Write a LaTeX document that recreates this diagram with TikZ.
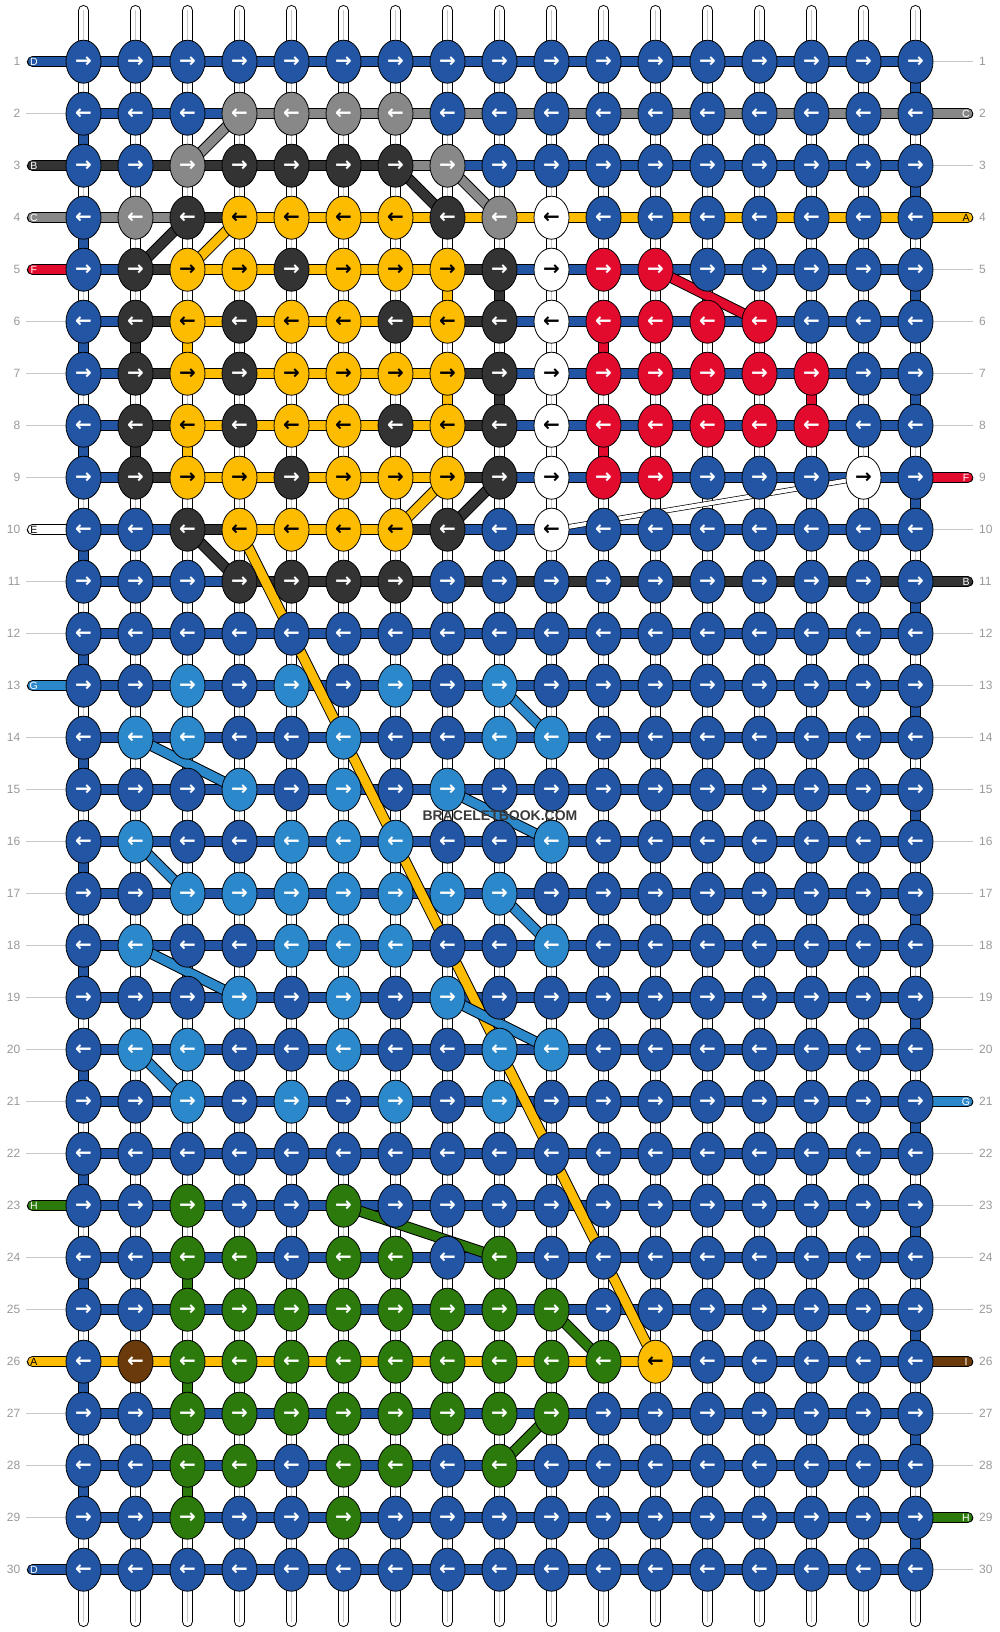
\documentclass[tikz,border=0pt]{standalone}
\usepackage{fontspec}
\setmainfont{Liberation Sans}
\newfontfamily\arrowfont{DejaVu Sans}
\usetikzlibrary{shapes.geometric}
\pgfdeclarelayer{l0}
\pgfdeclarelayer{l1}
\pgfdeclarelayer{l2}
\pgfsetlayers{l0,l1,l2,main}
\definecolor{cB}{HTML}{2256A4}
\definecolor{cL}{HTML}{2A88CB}
\definecolor{cG}{HTML}{888888}
\definecolor{cK}{HTML}{333333}
\definecolor{cY}{HTML}{FDBC00}
\definecolor{cR}{HTML}{E30B2D}
\definecolor{cN}{HTML}{2B7A0B}
\definecolor{cO}{HTML}{6B3A0A}
\definecolor{cW}{HTML}{FFFFFF}
\definecolor{numgray}{HTML}{999999}
\definecolor{linegray}{HTML}{C8C8C8}
\definecolor{wmgray}{HTML}{3A3A3A}
\colorlet{aB}{white}
\colorlet{aL}{white}
\colorlet{aG}{white}
\colorlet{aK}{white}
\colorlet{aY}{black}
\colorlet{aR}{white}
\colorlet{aN}{white}
\colorlet{aO}{white}
\colorlet{aW}{black}
\tikzset{
  knot/.style={ellipse, draw=black, line width=0.8pt, minimum width=35pt, minimum height=43pt, inner sep=0pt, font=\arrowfont\bfseries\fontsize{20}{20}\selectfont},
  strand/.style={draw=black, line width=1pt, double=#1, double distance=9pt},
  warp/.style={strand=white, line cap=round},
  warpmid/.style={draw=linegray, line width=1pt, line cap=round},
  stubline/.style={strand=#1, line cap=round},
  stubtext/.style={font=\fontsize{10.5}{10.5}\selectfont, inner sep=0pt},
  rownum/.style={font=\fontsize{12}{12}\selectfont, text=numgray, inner ysep=0pt},
  numline/.style={draw=linegray, line width=0.8pt},
  thinstrand/.style={draw=black, line width=0.7pt, double=white, double distance=4pt},
  wmark/.style={font=\bfseries\fontsize{14}{14}\selectfont, text=wmgray}
}
\begin{document}
\begin{tikzpicture}[x=1pt,y=-1pt]
\useasboundingbox (0,0) rectangle (1000,1632);
% knots
\foreach \rr/\cols in {
 1/{B,B,B,B,B,B,B,B,B,B,B,B,B,B,B,B,B},
 2/{B,B,B,G,G,G,G,B,B,B,B,B,B,B,B,B,B},
 3/{B,B,G,K,K,K,K,G,B,B,B,B,B,B,B,B,B},
 4/{B,G,K,Y,Y,Y,Y,K,G,W,B,B,B,B,B,B,B},
 5/{B,K,Y,Y,K,Y,Y,Y,K,W,R,R,B,B,B,B,B},
 6/{B,K,Y,K,Y,Y,K,Y,K,W,R,R,R,R,B,B,B},
 7/{B,K,Y,K,Y,Y,Y,Y,K,W,R,R,R,R,R,B,B},
 8/{B,K,Y,K,Y,Y,K,Y,K,W,R,R,R,R,R,B,B},
 9/{B,K,Y,Y,K,Y,Y,Y,K,W,R,R,B,B,B,W,B},
 10/{B,B,K,Y,Y,Y,Y,K,B,W,B,B,B,B,B,B,B},
 11/{B,B,B,K,K,K,K,B,B,B,B,B,B,B,B,B,B},
 12/{B,B,B,B,B,B,B,B,B,B,B,B,B,B,B,B,B},
 13/{B,B,L,B,L,B,L,B,L,B,B,B,B,B,B,B,B},
 14/{B,L,L,B,B,L,B,B,L,L,B,B,B,B,B,B,B},
 15/{B,B,B,L,B,L,B,L,B,B,B,B,B,B,B,B,B},
 16/{B,L,B,B,L,L,L,B,B,L,B,B,B,B,B,B,B},
 17/{B,B,L,L,L,L,L,L,L,B,B,B,B,B,B,B,B},
 18/{B,L,B,B,L,L,L,B,B,L,B,B,B,B,B,B,B},
 19/{B,B,B,L,B,L,B,L,B,B,B,B,B,B,B,B,B},
 20/{B,L,L,B,B,L,B,B,L,L,B,B,B,B,B,B,B},
 21/{B,B,L,B,L,B,L,B,L,B,B,B,B,B,B,B,B},
 22/{B,B,B,B,B,B,B,B,B,B,B,B,B,B,B,B,B},
 23/{B,B,N,B,B,N,B,B,B,B,B,B,B,B,B,B,B},
 24/{B,B,N,N,B,N,N,B,N,B,B,B,B,B,B,B,B},
 25/{B,B,N,N,N,N,N,N,N,N,B,B,B,B,B,B,B},
 26/{B,O,N,N,N,N,N,N,N,N,N,Y,B,B,B,B,B},
 27/{B,B,N,N,N,N,N,N,N,N,B,B,B,B,B,B,B},
 28/{B,B,N,N,B,N,N,B,N,B,B,B,B,B,B,B,B},
 29/{B,B,N,B,B,N,B,B,B,B,B,B,B,B,B,B,B},
 30/{B,B,B,B,B,B,B,B,B,B,B,B,B,B,B,B,B}} {
  \foreach \kc [count=\ci] in \cols {
    \pgfmathsetmacro\xx{83.5+52*(\ci-1)}
    \pgfmathsetmacro\yy{61.7+52*(\rr-1)}
    \node[knot, fill=c\kc, text=a\kc] (k-\rr-\ci) at (\xx,\yy) {\ifodd\rr\relax →\else ←\fi};
  }
}
% row numbers
\foreach \rr in {1,...,30} {
  \pgfmathsetmacro\yy{61.7+52*(\rr-1)}
  \node[rownum, anchor=east, inner xsep=5.5pt] (nl-\rr) at (26,\yy) {\rr};
  \node[rownum, anchor=west, inner xsep=6pt] (nr-\rr) at (973,\yy) {\rr};
  \begin{pgfonlayer}{l0}
  \draw[numline] (nl-\rr.east) -- (k-\rr-1.center);
  \draw[numline] (k-\rr-17.center) -- (nr-\rr.west);
  \end{pgfonlayer}
}
% warp strands
\begin{pgfonlayer}{l0}
\foreach \ci in {1,...,17} {
  \pgfmathsetmacro\xx{83.5+52*(\ci-1)}
  \coordinate (wt-\ci) at (\xx,10.5);
  \coordinate (wb-\ci) at (\xx,1621.5);
  \draw[warp] (wt-\ci) -- (wb-\ci);
  \draw[warpmid] (wt-\ci) -- (wb-\ci);
}
\end{pgfonlayer}
% horizontal and vertical strands
\begin{pgfonlayer}{l1}
\foreach \rr in {1,...,30} {
  \draw[strand=cB] (k-\rr-1.center) -- (k-\rr-17.center);
}
\foreach \rr/\ca/\cbb/\kc in {2/4/17/G, 3/1/7/K, 3/7/8/G, 4/1/3/G, 4/3/4/K, 4/4/17/Y,
  5/2/3/K, 5/3/8/Y, 5/8/9/K, 6/2/3/K, 6/3/8/Y, 6/8/9/K, 7/2/3/K, 7/3/8/Y, 7/8/9/K,
  8/2/3/K, 8/3/8/Y, 8/8/9/K, 9/2/3/K, 9/3/8/Y, 9/8/9/K,
  10/3/4/K, 10/4/7/Y, 10/7/8/K, 11/4/17/K, 26/1/12/Y} {
  \draw[strand=c\kc] (k-\rr-\ca.center) -- (k-\rr-\cbb.center);
}
\foreach \rr in {2,4,...,28} {
  \pgfmathtruncatemacro\rn{\rr+1}
  \draw[strand=cB] (k-\rr-1.center) -- (k-\rn-1.center);
}
\foreach \rr in {1,3,...,29} {
  \pgfmathtruncatemacro\rn{\rr+1}
  \draw[strand=cB] (k-\rr-17.center) -- (k-\rn-17.center);
}
\foreach \rr/\ci/\kc in {6/2/K, 8/2/K, 6/3/Y, 8/3/Y, 5/8/Y, 7/8/Y, 5/9/K, 7/9/K,
  6/11/R, 8/11/R, 7/15/R, 24/3/N, 26/3/N, 28/3/N} {
  \pgfmathtruncatemacro\rn{\rr+1}
  \draw[strand=c\kc] (k-\rr-\ci.center) -- (k-\rn-\ci.center);
}
% stubs
\foreach \rr/\kc/\lett in {1/B/D, 3/K/B, 4/G/C, 5/R/F, 10/W/E, 13/L/G, 23/N/H, 26/Y/A, 30/B/D} {
  \pgfmathsetmacro\yy{61.7+52*(\rr-1)}
  \coordinate (sl-\rr) at (32.5,\yy);
  \draw[stubline=c\kc] (sl-\rr) -- (k-\rr-1.center);
  \node[stubtext, text=a\kc] (tl-\rr) at (33.8,\yy) {\lett};
}
\foreach \rr/\kc/\lett in {2/G/C, 4/Y/A, 9/R/F, 11/K/B, 21/L/G, 26/O/I, 29/N/H} {
  \pgfmathsetmacro\yy{61.7+52*(\rr-1)}
  \coordinate (sr-\rr) at (967.8,\yy);
  \draw[stubline=c\kc] (k-\rr-17.center) -- (sr-\rr);
  \node[stubtext, text=a\kc] (tr-\rr) at (966,\yy) {\lett};
}
\end{pgfonlayer}
% diagonal strands
\begin{pgfonlayer}{l2}
\foreach \ra/\ca/\rb/\cbb/\kc in {2/4/3/3/G, 3/8/4/9/G, 4/3/5/2/K, 3/7/4/8/K, 9/9/10/8/K,
  10/3/11/4/K, 4/4/5/3/Y, 9/8/10/7/Y, 10/4/26/12/Y, 5/12/6/14/R,
  13/9/14/10/L, 14/2/15/4/L, 15/8/16/10/L, 16/2/17/3/L, 17/9/18/10/L, 18/2/19/4/L,
  19/8/20/10/L, 20/2/21/3/L, 23/6/24/9/N, 25/10/26/11/N, 27/10/28/9/N} {
  \draw[strand=c\kc] (k-\ra-\ca.center) -- (k-\rb-\cbb.center);
}
\draw[thinstrand] (k-9-16.center) -- (k-10-10.center);
\end{pgfonlayer}
\node[wmark] (wm) at (500,815.7) {BRACELETBOOK.COM};
\end{tikzpicture}
\end{document}
